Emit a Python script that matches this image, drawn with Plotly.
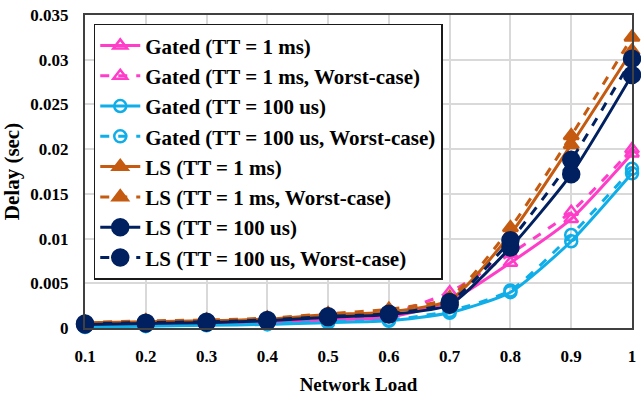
import plotly.graph_objects as go

loads = [0.1, 0.2, 0.3, 0.4, 0.5, 0.6, 0.7, 0.8, 0.9, 1.0]
x_tick_labels = ["0.1", "0.2", "0.3", "0.4", "0.5", "0.6", "0.7", "0.8", "0.9", "1"]
y_tick_vals = [0, 0.005, 0.01, 0.015, 0.02, 0.025, 0.03, 0.035]
y_tick_labels = ["0", "0.005", "0.01", "0.015", "0.02", "0.025", "0.03", "0.035"]

gated_1ms = [0.0002, 0.0003, 0.0004, 0.0006, 0.0009, 0.0012, 0.0030, 0.0073, 0.0122, 0.0195]
gated_1ms_wc = [0.0003, 0.0004, 0.0005, 0.0007, 0.0011, 0.0016, 0.0040, 0.0083, 0.0130, 0.0200]
gated_100us = [0.0001, 0.0002, 0.0003, 0.0004, 0.0006, 0.0008, 0.0017, 0.0040, 0.0097, 0.0173]
gated_100us_wc = [0.0002, 0.0003, 0.0004, 0.0005, 0.0007, 0.0009, 0.0019, 0.0042, 0.0104, 0.0178]
ls_1ms = [0.0006, 0.0007, 0.0008, 0.0010, 0.0015, 0.0018, 0.0031, 0.0105, 0.0205, 0.0310]
ls_1ms_wc = [0.0006, 0.0008, 0.0009, 0.0011, 0.0016, 0.0021, 0.0034, 0.0112, 0.0215, 0.0325]
ls_100us = [0.0004, 0.0005, 0.0006, 0.0008, 0.0012, 0.0015, 0.0026, 0.0090, 0.0172, 0.0283]
ls_100us_wc = [0.0005, 0.0006, 0.0007, 0.0009, 0.0013, 0.0016, 0.0029, 0.0098, 0.0188, 0.0301]

PINK = "#FF3DC8"
BLUE = "#0FAEE8"
ORANGE = "#C55A11"
NAVY = "#002060"

series = [
    ("Gated (TT = 1 ms)", gated_1ms, PINK, "solid", "triangle-up-open", 12),
    ("Gated (TT = 1 ms, Worst-case)", gated_1ms_wc, PINK, "dash", "triangle-up-open", 12),
    ("Gated (TT = 100 us)", gated_100us, BLUE, "solid", "circle-open", 12),
    ("Gated (TT = 100 us, Worst-case)", gated_100us_wc, BLUE, "dash", "circle-open", 12),
    ("LS (TT = 1 ms)", ls_1ms, ORANGE, "solid", "triangle-up", 13),
    ("LS (TT = 1 ms, Worst-case)", ls_1ms_wc, ORANGE, "dash", "triangle-up", 13),
    ("LS (TT = 100 us)", ls_100us, NAVY, "solid", "circle", 16),
    ("LS (TT = 100 us, Worst-case)", ls_100us_wc, NAVY, "dash", "circle", 16),
]

fig = go.Figure()
for i, (name, ys, color, dash, sym, size) in enumerate(series):
    fig.add_trace(go.Scatter(
        x=loads, y=ys, name="<b>" + name + "</b>", mode="lines+markers",
        line=dict(color=color, width=3, dash=dash, shape="spline", smoothing=0.6),
        marker=dict(symbol=sym, size=size, color=color, line=dict(color=color, width=2.5)),
        cliponaxis=False, legendgroup=str(i),
    ))

font_family = "Liberation Serif, Times New Roman, serif"
fig.update_layout(
    width=641, height=397,
    margin=dict(l=85, r=5, t=15, b=66),
    paper_bgcolor="white", plot_bgcolor="white",
    font=dict(family=font_family, size=17, color="black"),
    legend=dict(
        x=0.016, y=0.972, xanchor="left", yanchor="top",
        bgcolor="white", bordercolor="#1a1a1a", borderwidth=1.5,
        font=dict(family=font_family, size=21, color="black"),
        tracegroupgap=0, itemwidth=40,
    ),
    xaxis=dict(
        range=[0.1, 1.0], tickvals=loads, ticktext=x_tick_labels,
        showgrid=True, gridcolor="#D9D9D9", gridwidth=1.5,
        showline=True, linecolor="#404040", linewidth=2, mirror=True,
        ticks="", zeroline=False, ticklabelstandoff=12,
        tickfont=dict(family=font_family, size=17, weight="bold"),
        title=dict(text="<b>Network Load</b>", font=dict(family=font_family, size=19), standoff=12),
    ),
    yaxis=dict(
        range=[0, 0.035], tickvals=y_tick_vals, ticktext=y_tick_labels,
        showgrid=True, gridcolor="#D9D9D9", gridwidth=1.5,
        showline=True, linecolor="#404040", linewidth=2, mirror=True,
        ticks="", zeroline=False, ticklabelstandoff=11,
        tickfont=dict(family=font_family, size=17, weight="bold"),
        title=dict(text="<b>Delay (sec)</b>", font=dict(family=font_family, size=21), standoff=8),
    ),
)

fig.write_html("out.html")
